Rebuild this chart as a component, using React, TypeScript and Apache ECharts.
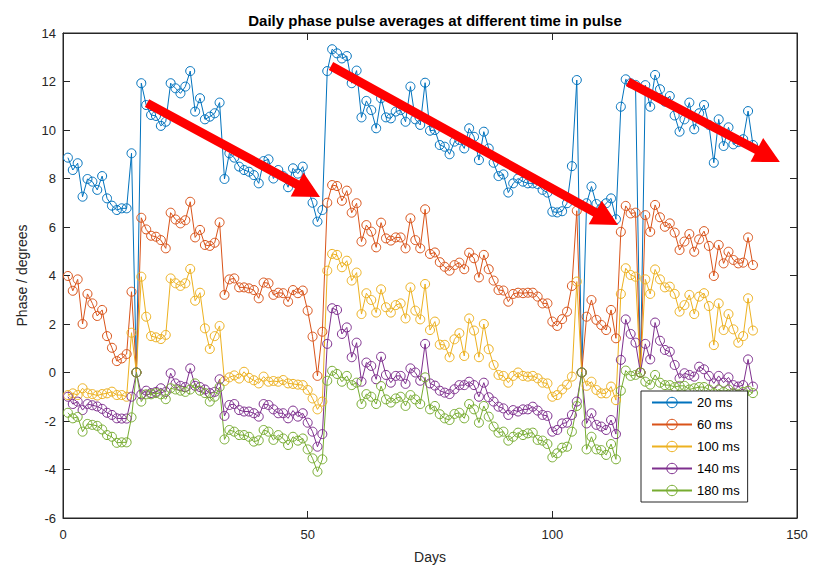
import React, { useEffect, useRef } from 'react';
import * as echarts from 'echarts';

const titleText = 'Daily phase pulse averages at different time in pulse';
const xName = 'Days';
const yName = 'Phase / degrees';
const seriesNames = ['20 ms', '60 ms', '100 ms', '140 ms', '180 ms'];
const colors = ['#0072BD', '#D95319', '#EDB120', '#7E2F8E', '#77AC30'];

const firstDay = 1;

const s20 = [
  8.86, 8.35, 8.63, 7.25, 7.98, 7.87, 7.53, 8.1, 7.18, 6.88,
  6.7, 6.77, 6.77, 9.04, 0, 11.93, 11.03, 10.62, 10.58, 10.17,
  10.34, 11.93, 11.72, 11.51, 11.79, 12.43, 10.76, 11.31, 10.44, 10.55,
  10.69, 11.13, 7.98, 9.04, 8.86, 8.49, 8.35, 8.28, 8.14, 7.8,
  8.72, 8.79, 8.0, 8.35, 8.1, 7.64, 8.42, 8.2, 8.49, 7.6,
  7.0, 6.22, 6.7, 12.43, 13.33, 13.16, 12.95, 13.05, 11.93, 12.45,
  10.52, 11.2, 10.82, 10.07, 11.31, 10.52, 10.48, 10.76, 10.82, 10.34,
  11.79, 10.44, 10.21, 11.95, 9.97, 10.0, 9.38, 9.31, 9.0, 9.52,
  9.59, 9.24, 10.07, 9.72, 8.76, 9.93, 9.24, 8.65, 8.1, 8.17,
  7.42, 7.8, 8.0, 7.87, 7.8, 7.8, 7.77, 7.53, 7.42, 6.63,
  6.6, 6.65, 6.98, 8.51, 12.06, 0, 6.98, 7.67, 6.95, 6.77,
  6.98, 7.18, 6.32, 10.96, 12.09, 11.93, 11.86, 0, 11.85, 10.96,
  12.27, 11.68, 11.17, 11.4, 10.6, 9.93, 10.44, 11.13, 10.03, 10.69,
  11.03, 10.21, 8.65, 10.44, 9.34, 10.11, 9.41, 9.5, 9.62, 10.78,
  9.38,
];

const s60 = [
  3.98, 3.37, 3.84, 2.0, 3.24, 2.85, 2.33, 2.58, 1.5, 1.02,
  0.47, 0.58, 0.76, 3.33, 0, 6.38, 5.9, 5.64, 5.6, 5.46,
  5.12, 6.59, 6.31, 6.15, 6.28, 7.04, 5.57, 5.88, 5.26, 5.22,
  5.35, 6.19, 3.2, 3.84, 3.88, 3.51, 3.51, 3.47, 3.4, 3.06,
  3.71, 3.68, 3.2, 3.29, 3.27, 2.92, 3.4, 3.27, 3.38, 2.55,
  1.48, -0.14, 1.68, 7.0, 7.73, 7.69, 7.08, 7.5, 6.59, 6.98,
  5.4, 6.08, 5.81, 5.16, 6.18, 5.53, 5.44, 5.57, 5.57, 5.12,
  6.36, 5.46, 5.12, 6.73, 4.89, 4.95, 4.55, 4.36, 4.2, 4.43,
  4.53, 4.26, 4.94, 4.71, 3.92, 4.85, 4.26, 3.79, 3.4, 3.38,
  2.92, 3.24, 3.29, 3.27, 3.29, 3.29, 3.13, 2.85, 2.85, 2.1,
  1.92, 2.2, 2.51, 3.57, 6.67, 0, 2.3, 2.99, 2.17, 1.96,
  1.75, 2.58, 1.41, 5.8, 6.87, 6.56, 6.59, 0, 6.49, 5.8,
  6.91, 6.4, 6.01, 6.15, 5.77, 5.05, 5.4, 5.71, 4.98, 5.49,
  5.83, 5.22, 3.98, 5.26, 4.5, 4.98, 4.64, 4.5, 4.53, 5.57,
  4.43,
];

const s100 = [
  -0.93, -0.86, -0.93, -0.65, -0.86, -0.89, -0.95, -0.89, -0.86, -0.79,
  -0.93, -0.93, -1.0, 1.64, 0, 3.95, 2.3, 1.5, 1.45, 1.38,
  1.55, 3.88, 3.68, 3.57, 3.68, 4.27, 2.96, 3.29, 1.82, 0.97,
  1.5, 1.92, -0.35, -0.2, -0.12, -0.25, 0.03, -0.22, -0.32, -0.45,
  -0.17, -0.38, -0.35, -0.38, -0.31, -0.45, -0.47, -0.5, -0.52, -0.72,
  -1.07, -1.52, -1.2, 4.2, 4.89, 4.85, 4.34, 4.61, 3.79, 4.12,
  2.41, 3.27, 2.99, 2.47, 3.43, 2.69, 2.47, 2.78, 2.85, 2.23,
  3.51, 2.55, 2.19, 3.65, 1.75, 2.1, 1.15, 1.14, 0.63, 1.37,
  1.62, 0.68, 2.23, 1.73, 0.63, 2.0, 0.96, 0.31, -0.1, -0.14,
  -0.42, -0.14, 0.0, -0.14, -0.17, -0.14, -0.24, -0.42, -0.45, -1.0,
  -0.93, -0.7, -0.5, -0.17, 3.75, 0, -0.55, -0.38, -0.72, -0.86,
  -0.86, -0.58, -1.14, 3.24, 4.3, 4.02, 3.95, 0, 3.84, 3.24,
  4.25, 3.84, 3.51, 3.54, 3.24, 2.51, 2.78, 3.2, 2.41, 3.13,
  3.27, 2.74, 1.13, 2.85, 1.75, 2.41, 1.78, 1.23, 1.5, 3.06,
  1.73,
];

const s140 = [
  -1.0, -1.3, -1.2, -1.55, -1.3, -1.35, -1.4, -1.5, -1.66, -1.75,
  -1.89, -1.9, -1.9, -1.0, 0, -0.9, -0.75, -0.85, -0.8, -0.65,
  -0.8, -0.03, -0.45, -0.55, -0.6, 0.17, -0.55, -0.6, -0.7, -0.85,
  -0.8, -0.28, -1.79, -1.34, -1.3, -1.55, -1.61, -1.61, -1.68, -1.82,
  -1.3, -1.34, -1.52, -1.68, -1.68, -1.89, -1.57, -1.82, -1.68, -2.07,
  -2.44, -3.06, -2.54, 1.18, 2.65, 2.58, 1.59, 1.86, 0.63, 1.23,
  -0.38, 0.41, 0.27, -0.28, 0.65, -0.1, -0.42, -0.14, -0.14, -0.47,
  0.17, 0.0, -0.34, 1.18, -0.45, -0.54, -0.75, -0.83, -0.89, -0.69,
  -0.52, -0.52, -0.38, -0.52, -1.0, -0.42, -1.02, -1.2, -1.41, -1.48,
  -1.75, -1.55, -1.61, -1.52, -1.52, -1.41, -1.57, -1.75, -1.79, -2.44,
  -2.37, -2.1, -2.07, -1.75, -1.2, 0, -2.1, -1.68, -2.16, -2.23,
  -2.37, -1.96, -2.54, 0.52, 2.19, 1.59, 1.23, 0, 1.18, 0.54,
  2.06, 1.31, 0.93, 0.86, 0.31, -0.24, -0.03, -0.1, -0.17, 0.24,
  0.13, -0.14, -0.45, -0.14, -0.42, -0.2, -0.52, -0.58, -0.52, 0.54,
  -0.58,
];

const s180 = [
  -1.66, -1.89, -1.83, -2.44, -2.12, -2.16, -2.2, -2.35, -2.58, -2.65,
  -2.9, -2.88, -2.88, -1.85, 0, -1.2, -0.9, -0.9, -0.85, -0.9,
  -1.1, -0.65, -0.7, -0.75, -0.8, -0.7, -0.45, -0.75, -0.85, -1.2,
  -1.0, -0.6, -2.76, -2.37, -2.44, -2.58, -2.58, -2.65, -2.85, -2.8,
  -2.37, -2.44, -2.78, -2.58, -2.72, -2.99, -2.65, -2.81, -2.72, -3.17,
  -3.54, -4.09, -3.58, -0.34, 0.07, -0.06, -0.38, -0.14, -0.52, -0.42,
  -1.3, -0.89, -1.0, -1.3, -0.56, -1.11, -1.24, -1.07, -1.0, -1.38,
  -0.93, -1.11, -1.3, -0.2, -1.52, -1.38, -1.72, -1.89, -1.96, -1.71,
  -1.66, -1.89, -1.3, -1.52, -2.07, -1.38, -1.82, -2.23, -2.48, -2.44,
  -2.81, -2.65, -2.48, -2.58, -2.51, -2.48, -2.78, -2.81, -2.95, -3.5,
  -3.33, -3.1, -3.06, -2.44, -1.38, 0, -3.17, -2.65, -3.17, -3.2,
  -3.4, -2.95, -3.58, -0.75, 0.08, -0.14, -0.1, 0, -0.38, -0.5,
  -0.1, -0.42, -0.52, -0.52, -0.6, -0.55, -0.55, -0.7, -0.65, -0.6,
  -0.6, -0.7, -0.85, -0.7, -0.8, -0.7, -0.85, -0.9, -0.8, -0.75,
  -0.85,
];

// Annotation arrows in data units [day, degrees]
const arrowTails = [[17.17, 11.11], [54.77, 12.64], [115.46, 11.98]];
const arrowTips = [[52.52, 7.24], [113.42, 6.08], [146.5, 8.68]];

const xMin = 0, xMax = 150, xStep = 50;
const yMin = -6, yMax = 14, yStep = 2;

const allSeries = [s20, s60, s100, s140, s180];

export default function App() {
  const ref = useRef<HTMLDivElement>(null);
  useEffect(() => {
    const chart = echarts.init(ref.current!, null, { renderer: 'svg' });
    const font = '"Liberation Sans", Arial, Helvetica, sans-serif';
    const axisColor = '#262626';
    const baseX = {
      type: 'value', min: xMin, max: xMax, interval: xStep,
      axisLine: { show: true, onZero: false, lineStyle: { color: axisColor, width: 1 } },
      axisTick: { show: true, inside: true, length: 7, lineStyle: { color: axisColor } },
      splitLine: { show: false },
    };
    const baseY = {
      type: 'value', min: yMin, max: yMax, interval: yStep,
      axisLine: { show: true, onZero: false, lineStyle: { color: axisColor, width: 1 } },
      axisTick: { show: true, inside: true, length: 7, lineStyle: { color: axisColor } },
      splitLine: { show: false },
    };
    const option: any = {
      animation: false,
      backgroundColor: '#fff',
      title: {
        text: titleText, left: 430, top: 8, textAlign: 'center',
        textStyle: { fontSize: 15, fontWeight: 'bold', color: '#000', fontFamily: font },
      },
      grid: { left: 63, right: 16, top: 33, bottom: 53, show: true, borderColor: axisColor, borderWidth: 1, backgroundColor: '#fff' },
      xAxis: [
        {
          ...baseX, position: 'bottom',
          name: xName, nameLocation: 'middle', nameGap: 32,
          nameTextStyle: { fontSize: 14, color: axisColor, fontFamily: font },
          axisLabel: { show: true, fontSize: 13, color: axisColor, margin: 10, fontFamily: font },
        },
        { ...baseX, position: 'top', axisLabel: { show: false } },
      ],
      yAxis: [
        {
          ...baseY, position: 'left',
          name: yName, nameLocation: 'middle', nameGap: 34, nameRotate: 90,
          nameTextStyle: { fontSize: 14, color: axisColor, fontFamily: font },
          axisLabel: { show: true, fontSize: 13, color: axisColor, margin: 7, fontFamily: font },
        },
        { ...baseY, position: 'right', axisLabel: { show: false } },
      ],
      legend: {
        orient: 'vertical', left: 641, top: 391,
        padding: [5, 8, 5, 10], itemGap: 9, itemWidth: 40, itemHeight: 13,
        borderColor: axisColor, borderWidth: 1, backgroundColor: '#fff', borderRadius: 0,
        textStyle: { fontSize: 13, color: '#000', fontFamily: font },
        itemStyle: { color: 'rgba(255,255,255,0)', borderColor: 'inherit', borderWidth: 1 },
        data: seriesNames,
      },
      series: allSeries.map((vals, k) => ({
        name: seriesNames[k],
        type: 'line',
        xAxisIndex: 0, yAxisIndex: 0,
        data: vals.map((v, i) => [firstDay + i, v]),
        symbol: 'circle', symbolSize: 9, showAllSymbol: true,
        color: colors[k],
        lineStyle: { color: colors[k], width: 1 },
        itemStyle: { color: 'rgba(255,255,255,0)', borderColor: colors[k], borderWidth: 1 },
        emphasis: { disabled: true },
      })),
    };
    chart.setOption(option);

    const shaft = 9, headLen = 26, headW = 27;
    const graphics = arrowTails.map((tail, i) => {
      const p0 = chart.convertToPixel({ xAxisIndex: 0, yAxisIndex: 0 } as any, tail) as number[];
      const p1 = chart.convertToPixel({ xAxisIndex: 0, yAxisIndex: 0 } as any, arrowTips[i]) as number[];
      const dx = p1[0] - p0[0], dy = p1[1] - p0[1];
      const len = Math.hypot(dx, dy);
      const ux = dx / len, uy = dy / len;
      const nx = -uy, ny = ux;
      const bx = p1[0] - ux * headLen, by = p1[1] - uy * headLen;
      const pts = [
        [p0[0] + nx * shaft / 2, p0[1] + ny * shaft / 2],
        [bx + nx * shaft / 2, by + ny * shaft / 2],
        [bx + nx * headW / 2, by + ny * headW / 2],
        [p1[0], p1[1]],
        [bx - nx * headW / 2, by - ny * headW / 2],
        [bx - nx * shaft / 2, by - ny * shaft / 2],
        [p0[0] - nx * shaft / 2, p0[1] - ny * shaft / 2],
      ];
      return { type: 'polygon', shape: { points: pts }, style: { fill: '#ff0000' }, z: 100, silent: true };
    });
    chart.setOption({ graphic: graphics });

    return () => chart.dispose();
  }, []);
  return <div ref={ref} style={{ position: 'fixed', left: 0, top: 0, width: 813, height: 571 }} />;
}
